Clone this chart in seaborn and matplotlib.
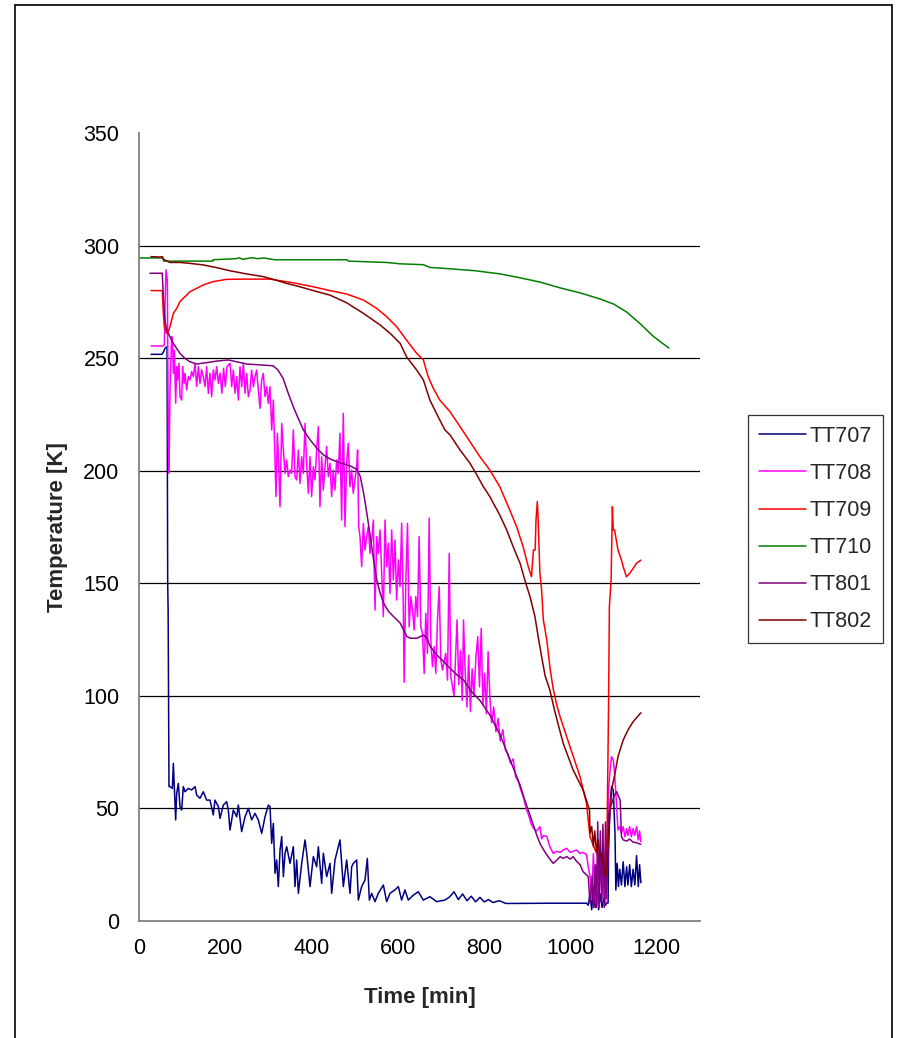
import numpy as np
import pandas as pd
import matplotlib
matplotlib.use("Agg")
import matplotlib.pyplot as plt
import seaborn as sns
from matplotlib.lines import Line2D

# ---------------- data: (time [min], temperature [K]) ----------------
sensors = ["TT707", "TT708", "TT709", "TT710", "TT801", "TT802"]
colors = ["#000080", "#FF00FF", "#FF0000", "#008000", "#800080", "#800000"]

tt707 = [(28, 251.7), (53, 251.7), (57, 252.9), (60, 254.3), (65, 255.1), (66.5, 150), (67.5, 138), (69.5, 59.7),
         (71.8, 59.7), (77.3, 58.9), (79.6, 70.0), (81.9, 59.7), (85, 44.9), (87.3, 56.7), (91.2, 61.1), (95, 50.8),
         (98.9, 49.3), (102.7, 59.7), (106.6, 57.4), (114.3, 58.9), (122, 58.2), (129.8, 59.7), (133.6, 56.0),
         (141.3, 54.5), (149, 57.4), (156.8, 53.7), (164.5, 53.7), (172.2, 47.1), (176, 53.7), (183.9, 50.8),
         (187.7, 45.6), (195.4, 51.5), (203.2, 53.0), (207, 49.3), (210.9, 40.4), (218.6, 49.3), (226.4, 46.3),
         (230.2, 51.5), (237.9, 39.7), (245.7, 46.3), (253.4, 50.0), (261.1, 44.9), (268.8, 47.8), (276.5, 44.9),
         (284.3, 38.9), (292, 46.3), (299.7, 51.5), (303.6, 50.8), (307.5, 34.5), (311.3, 43.4), (315.2, 21.2),
         (319, 27.1), (322.9, 15.3), (326.8, 31.5), (330.7, 37.5), (334.5, 19.7), (338.4, 30.1), (342.2, 33.0),
         (350, 25.6), (357.7, 33.0), (361.5, 15.3), (365.4, 27.1), (369.3, 12.3), (377, 25.6), (384.7, 36.0),
         (388.6, 30.1), (396.3, 15.3), (404, 28.6), (411.7, 24.1), (415.6, 33.0), (423.3, 16.7), (427.2, 30.1),
         (434.9, 19.7), (442.6, 25.6), (446.5, 12.3), (454.2, 27.1), (461.9, 33.0), (465.8, 36.0), (473.5, 15.3),
         (481.2, 27.1), (489, 12.3), (492.8, 24.1), (496.7, 25.6), (504.4, 27.1), (508.3, 9.3), (516, 15.3),
         (523.7, 18.2), (529.1, 27.8), (533.8, 9.3), (539.2, 12.3), (546.9, 8.6), (554.6, 12.3), (566.2, 16.0),
         (573.9, 8.6), (581.6, 12.3), (593.2, 13.8), (600.9, 15.3), (608.6, 9.3), (616.3, 13.8), (624, 9.3),
         (635.6, 11.5), (647.2, 13.0), (658.8, 9.3), (674.2, 10.8), (689.6, 8.6), (709, 9.3), (720.5, 10.8),
         (730, 13.0), (740, 9.5), (750, 12.0), (760, 9.0), (770, 11.0), (780, 8.5), (790, 10.5), (800, 8.5),
         (810, 9.5), (820, 8.2), (835, 9.0), (850, 7.8), (870, 7.8), (950, 7.9), (1000, 7.9), (1037, 7.9),
         (1041, 7.0), (1045, 12.0), (1049, 5.0), (1053, 15.0), (1057, 6.0), (1061, 18.0), (1065, 5.0), (1069, 12.0),
         (1073, 6.0), (1077, 10.0), (1081, 7.0), (1084, 8.0), (1087, 8.0), (1088, 30.0), (1091, 50.0), (1095, 59.7),
         (1099, 58.2), (1103, 38.9), (1105, 13.8), (1108, 25.6), (1111, 15.3), (1114, 23.0), (1118, 16.0),
         (1122, 26.3), (1126, 15.3), (1130, 24.1), (1133, 16.0), (1137, 25.0), (1141, 15.3), (1145, 23.0),
         (1149, 16.0), (1153, 29.0), (1157, 15.3), (1160, 25.0), (1163, 17.0)]

tt708 = [(28, 255.4), (56.4, 255.4), (58.7, 256.0), (60.2, 272.9), (62.6, 289.2), (65.6, 284.7), (68, 213.7),
         (69.5, 198.9), (71.8, 235.9), (75.7, 259.6), (78, 255.1), (79.6, 243.3), (81.9, 253.6), (85, 230.0),
         (87.3, 246.2), (89.6, 240.3), (92.7, 247.7), (95, 232.9), (98.9, 231.4), (101.2, 246.2), (104.3, 238.8),
         (106.6, 243.3), (110.5, 235.9), (114.3, 241.8), (118.2, 240.3), (122, 244.0), (126, 241.8), (129.8, 247.7),
         (133.6, 237.4), (137.5, 246.2), (141.3, 238.8), (145.2, 244.8), (149, 241.8), (153, 237.4), (156.8, 246.2),
         (160.7, 234.4), (164.5, 243.3), (168.4, 232.9), (172.2, 244.8), (176, 240.3), (180, 246.2), (184, 238.8),
         (188, 243.3), (192, 234.4), (196, 245.5), (200, 237.4), (204, 246.2), (211, 247.7), (214.8, 237.3),
         (218.7, 244.7), (222.6, 234.4), (226.4, 241.8), (230.3, 231.4), (234, 246.2), (238, 237.3), (241.8, 247.7),
         (245.7, 234.4), (249.5, 243.2), (253.4, 232.9), (257.2, 235.8), (261, 244.7), (265, 237.3), (268.8, 241.8),
         (272.7, 244.7), (276.5, 235.8), (280.4, 227.7), (284.2, 240.3), (288, 243.2), (292, 232.9), (295.8, 237.3),
         (299.6, 229.9), (303.6, 237.3), (307.5, 218.1), (311.3, 231.4), (315.2, 203.3), (317.5, 188.5),
         (320.6, 216.6), (323, 206.2), (326.8, 184.0), (330.7, 221.0), (334.5, 209.2), (338.4, 198.8), (342.2, 204.8),
         (346, 197.4), (350, 200.3), (353.8, 198.8), (357.7, 218.1), (361.5, 197.4), (365.4, 195.9), (369.3, 209.2),
         (373, 194.4), (377, 206.2), (380.8, 198.8), (384.7, 221.0), (388.5, 203.3), (392.4, 190.0), (396.3, 206.2),
         (400, 188.5), (404, 201.8), (407.8, 195.9), (411.7, 209.2), (415.6, 219.6), (419.4, 184.0), (423.3, 206.2),
         (427, 191.4), (431, 201.8), (434.8, 210.7), (438.7, 197.4), (442.6, 203.3), (446.4, 188.5), (450.3, 200.3),
         (454, 191.4), (458, 204.8), (461.8, 198.8), (465.7, 216.6), (469.6, 178.1), (473.4, 225.5), (477.3, 175.2),
         (481.1, 203.3), (485, 212.2), (488.8, 192.9), (492.7, 200.3), (496.5, 190.0), (500.4, 195.9), (504.3, 201.8),
         (506.6, 209.2), (509.1, 175.2), (512.1, 170.7), (516, 157.4), (519.9, 176.6), (523.7, 164.8), (527.6, 170.7),
         (531.5, 175.2), (535.3, 163.3), (539.2, 169.2), (543, 178.1), (546.9, 138.1), (550.8, 170.7), (554.6, 163.3),
         (558.5, 173.7), (566.2, 135.2), (570, 178.1), (573.9, 157.4), (577.8, 167.8), (581.6, 145.5), (585.5, 173.7),
         (589.4, 151.5), (593.2, 169.2), (597, 142.6), (601, 160.4), (604.8, 148.5), (608.7, 176.6), (612.5, 139.6),
         (614.4, 106.0), (618.3, 150.0), (622.2, 176.6), (626, 130.7), (630, 144.1), (633.8, 138.1), (637.6, 129.3),
         (641.5, 144.1), (645.4, 135.2), (649.2, 170.7), (653, 130.7), (657, 127.8), (660.8, 110.0), (664.6, 136.7),
         (668.5, 118.9), (672.4, 178.9), (676.2, 124.8), (680, 113.0), (684, 121.9), (687.8, 110.0), (691.7, 133.7),
         (695.6, 148.5), (699.4, 116.0), (703.3, 111.5), (711, 118.9), (714.9, 107.0), (718.8, 163.3), (722.6, 108.5),
         (730, 100.0), (737, 133.7), (741, 105.0), (745, 120.0), (749, 98.0), (752, 133.7), (756, 110.0), (760, 95.0),
         (764, 118.0), (768, 93.0), (772, 112.0), (776, 100.0), (781, 118.0), (785, 126.3), (789, 104.0), (793, 130.0),
         (797, 96.0), (801, 110.0), (805, 92.0), (809, 119.6), (813, 100.0), (817, 88.0), (822, 95.0), (827, 84.0),
         (832, 90.0), (837, 80.0), (843, 85.0), (849, 76.0), (855, 74.0), (861, 70.0), (867, 72.0), (873, 64.0),
         (879, 62.0), (885, 58.0), (891, 55.0), (897, 50.0), (903, 47.0), (909, 43.0), (915, 41.0), (922, 40.0),
         (929, 41.9), (933, 36.5), (937, 38.0), (945, 37.5), (952, 33.0), (960, 30.0), (968, 31.0), (976, 30.5),
         (983, 31.5), (991, 32.3), (999, 30.5), (1006, 31.0), (1014, 31.5), (1022, 30.0), (1029, 30.5), (1037, 29.5),
         (1041, 24.1), (1045, 20.0), (1049, 10.0), (1053, 30.0), (1057, 8.0), (1061, 25.0), (1065, 6.0), (1069, 30.0),
         (1073, 10.0), (1077, 28.0), (1081, 8.0), (1085, 20.0), (1088, 58.2), (1092, 68.0), (1095, 73.0),
         (1099, 71.5), (1102, 66.0), (1105, 56.7), (1110, 40.4), (1114, 41.9), (1118, 38.9), (1122, 41.9),
         (1126, 37.4), (1130, 41.0), (1133, 38.0), (1137, 41.9), (1141, 37.4), (1145, 41.0), (1149, 38.0),
         (1153, 41.9), (1157, 36.0), (1160, 40.0), (1163, 35.2)]

tt709 = [(28, 280.0), (54, 280.0), (56.4, 269.9), (58.7, 264.0), (64, 261.0), (68, 261.7), (71.8, 264.0),
         (75.7, 266.9), (79.6, 269.9), (87.3, 272.1), (95, 275.1), (102.7, 276.6), (110.5, 278.0), (118, 279.5),
         (133.6, 281.0), (149, 282.5), (172, 284.0), (203, 285.0), (249.5, 285.1), (303.6, 285.1), (327, 284.4),
         (365, 283.2), (404, 281.7), (442.6, 280.0), (481, 278.5), (520, 275.8), (551, 272.1), (574, 268.4),
         (597, 264.0), (620, 258.0), (643.6, 252.1), (659, 249.2), (670, 241.8), (682, 236.6), (697, 231.4),
         (720.7, 226.2), (744, 219.6), (767, 212.9), (790, 206.2), (813, 200.3), (836, 192.9), (859, 182.6),
         (875, 175.2), (890, 166.3), (902, 157.4), (909.5, 152.9), (914, 164.8), (918, 164.8), (920, 178.1),
         (923, 186.3), (925, 178.1), (929, 154.4), (933, 147.0), (937, 133.7), (945, 124.8), (953, 111.5),
         (960, 103.0), (968, 96.0), (975.7, 90.8), (991, 81.9), (1006.5, 73.0), (1022, 64.1), (1037, 52.3),
         (1045, 37.5), (1057, 31.5), (1064, 28.6), (1072, 26.0), (1080, 22.6), (1083, 24.0), (1085, 45.0),
         (1088, 94.0), (1090, 139.6), (1094, 151.5), (1097, 184.0), (1099, 173.7), (1102, 173.7), (1110, 164.8),
         (1118, 160.3), (1122, 157.4), (1129.5, 152.9), (1137, 154.4), (1145, 156.6), (1153, 158.9), (1163, 160.3)]

tt710 = [(0, 294.5), (56, 294.5), (57, 293.1), (171, 293.1), (172, 293.7), (226, 294.2), (232, 294.6), (240, 293.9),
         (260, 294.6), (275, 294.2), (290, 294.5), (305, 294.0), (315, 293.7), (482, 293.7), (485, 293.1),
         (574, 292.5), (605, 291.9), (659, 291.5), (674, 290.3), (720, 289.7), (780, 288.8), (837, 287.4),
         (880, 285.8), (929, 283.8), (976, 281.2), (1022, 279.0), (1068, 276.3), (1100, 274.0), (1130, 270.5),
         (1163, 265.0), (1190, 260.0), (1210, 257.0), (1228, 254.5)]

tt801 = [(25.5, 287.7), (54, 287.7), (56.4, 277.3), (60.2, 266.9), (64, 262.5), (71.8, 259.5), (79.6, 256.6),
         (87.3, 254.3), (95, 252.1), (106.6, 249.9), (118, 248.4), (133.6, 247.4), (156.8, 248.0), (180, 248.7),
         (207, 249.2), (226, 248.4), (249.5, 247.4), (288, 246.9), (311, 246.6), (322, 244.7), (334, 241.0),
         (346, 234.3), (357.6, 228.4), (369, 223.2), (381, 218.1), (396.6, 213.7), (412, 210.0), (427.5, 207.0),
         (443, 205.2), (458.6, 204.0), (474, 203.0), (489.6, 202.1), (505, 200.6), (512.8, 197.4), (520.5, 190.0),
         (528, 181.1), (536, 170.7), (543.6, 160.4), (551, 151.5), (559, 145.5), (567, 141.1), (578.6, 137.4),
         (590, 135.2), (605.6, 132.2), (613, 129.3), (621, 126.3), (629, 125.6), (644, 125.6), (659.6, 127.0),
         (667, 125.6), (675, 121.9), (690, 118.2), (706, 115.2), (721, 112.2), (737, 109.3), (752, 107.1),
         (770, 102.0), (790, 98.0), (813, 91.5), (837, 82.6), (860, 71.5), (883, 60.4), (894, 53.7), (906, 47.0),
         (922, 38.0), (929, 34.5), (941, 30.5), (952, 27.5), (960, 25.6), (968, 27.0), (976, 28.6), (983, 27.8),
         (991, 28.6), (999, 27.5), (1006, 28.6), (1014, 26.5), (1022, 25.0), (1029, 21.9), (1037, 20.5),
         (1041, 19.7), (1045, 8.0), (1050, 20.0), (1053, 6.0), (1057, 25.0), (1060, 6.0), (1063, 44.0), (1066, 6.0),
         (1069, 40.0), (1072, 8.0), (1075, 43.0), (1078, 6.0), (1081, 44.0), (1083, 10.0), (1086, 25.0),
         (1088, 47.8), (1095, 52.0), (1102, 56.0), (1107, 57.4), (1112, 55.0), (1115, 53.7), (1118, 37.5),
         (1122, 36.0), (1130, 35.5), (1137, 36.4), (1145, 35.0), (1153, 34.8), (1163, 34.0)]

tt802 = [(27.8, 295.1), (48.7, 294.9), (54, 295.1), (56.4, 293.9), (71.8, 292.5), (95, 292.5), (118, 292.1),
         (149, 291.4), (180, 290.2), (211, 288.8), (249.5, 287.4), (288, 286.2), (311, 285.0), (342, 283.2),
         (373, 281.7), (404, 280.0), (442.6, 278.0), (481, 274.6), (520, 269.9), (559, 264.7), (582, 261.0),
         (605, 256.6), (620, 250.6), (643.6, 244.7), (659, 240.3), (674, 231.4), (697, 222.5), (709, 218.1),
         (720.7, 215.9), (744, 209.2), (767, 203.3), (783, 198.1), (798, 192.9), (813, 188.5), (836, 180.3),
         (852, 173.7), (867, 166.3), (883, 158.9), (894, 151.5), (906, 144.1), (917.5, 135.2), (925, 126.3),
         (933, 117.4), (941, 109.0), (952, 102.6), (965, 92.0), (983, 78.9), (1006, 67.1), (1029, 58.2),
         (1044, 49.3), (1045, 38.9), (1049, 42.0), (1053, 33.0), (1056, 40.0), (1060, 31.0), (1064, 36.0),
         (1068, 28.6), (1072, 30.0), (1076, 24.1), (1082, 19.7), (1088, 37.5), (1095, 58.2), (1103, 65.6),
         (1110, 73.0), (1122, 80.4), (1133, 84.8), (1145, 88.5), (1163, 92.5)]

x_ticks = [0, 200, 400, 600, 800, 1000, 1200]
y_ticks = [0, 50, 100, 150, 200, 250, 300, 350]

# ---------------- long table for seaborn ----------------
series = {"TT707": tt707, "TT708": tt708, "TT709": tt709,
          "TT710": tt710, "TT801": tt801, "TT802": tt802}
frames = []
for name in sensors:
    pts = series[name]
    frames.append(pd.DataFrame({"Time": [p[0] for p in pts], "Temp": [p[1] for p in pts], "Sensor": name}))
df = pd.concat(frames, ignore_index=True)

# ---------------- figure ----------------
sns.set_theme(style="white")
plt.rcParams["font.family"] = ["Liberation Sans", "DejaVu Sans"]

W, H = 899, 1038
fig = plt.figure(figsize=(W / 100, H / 100), dpi=100)
ax_l, ax_r, ax_t, ax_b = 139, 700, 133, 921
ax = fig.add_axes([ax_l / W, 1 - ax_b / H, (ax_r - ax_l) / W, (ax_b - ax_t) / H])

sns.lineplot(data=df, x="Time", y="Temp", hue="Sensor", hue_order=sensors,
             palette=dict(zip(sensors, colors)), estimator=None, sort=False,
             linewidth=1.1, ax=ax)

ax.set_xlim(0, 1300)
ax.set_ylim(0, 350)
ax.set_xticks(x_ticks)
ax.set_yticks(y_ticks)
ax.set_xticklabels([str(v) for v in x_ticks])
ax.set_yticklabels([str(v) for v in y_ticks])

for v in y_ticks[1:-1]:
    ax.axhline(v, color="black", linewidth=0.9, zorder=0.5)

for s in ["top", "right"]:
    ax.spines[s].set_visible(False)
for s in ["left", "bottom"]:
    ax.spines[s].set_color("#808080")
    ax.spines[s].set_linewidth(1.3)

ax.tick_params(axis="both", which="major", direction="out", length=5, width=1.1,
               color="#808080", labelsize=15.5, labelcolor="black")
ax.tick_params(axis="y", pad=9)
ax.tick_params(axis="x", pad=7)

ax.set_xlabel("Time [min]", fontsize=16, fontweight="bold", va="center")
ax.set_ylabel("Temperature [K]", fontsize=16, fontweight="bold", va="center")
ax.xaxis.set_label_coords(0.5, (ax_b - 998) / (ax_b - ax_t))
ax.yaxis.set_label_coords((57 - ax_l) / (ax_r - ax_l), 0.5)

handles, labels = ax.get_legend_handles_labels()
leg = ax.legend(handles, labels, loc="upper left",
                bbox_to_anchor=(748 / W, 1 - 415 / H), bbox_transform=fig.transFigure,
                borderaxespad=0, frameon=True, fancybox=False, shadow=False,
                fontsize=15.5, handlelength=2.2, handletextpad=0.18, labelspacing=0.75,
                borderpad=0.5, title=None)
leg.get_frame().set_edgecolor("black")
leg.get_frame().set_linewidth(0.9)
for lh in leg.get_lines():
    lh.set_linewidth(1.1)

# outer chart border (open at the bottom, as in the reference)
bx0, bx1, by0 = 15 / W, 892 / W, 1 - 5 / H
for xs, ys in [([bx0, bx0], [0, by0]), ([bx0, bx1], [by0, by0]), ([bx1, bx1], [by0, 0])]:
    fig.add_artist(Line2D(xs, ys, color="black", linewidth=1.2, transform=fig.transFigure))

fig.savefig("out.png", dpi=100, facecolor="white")
